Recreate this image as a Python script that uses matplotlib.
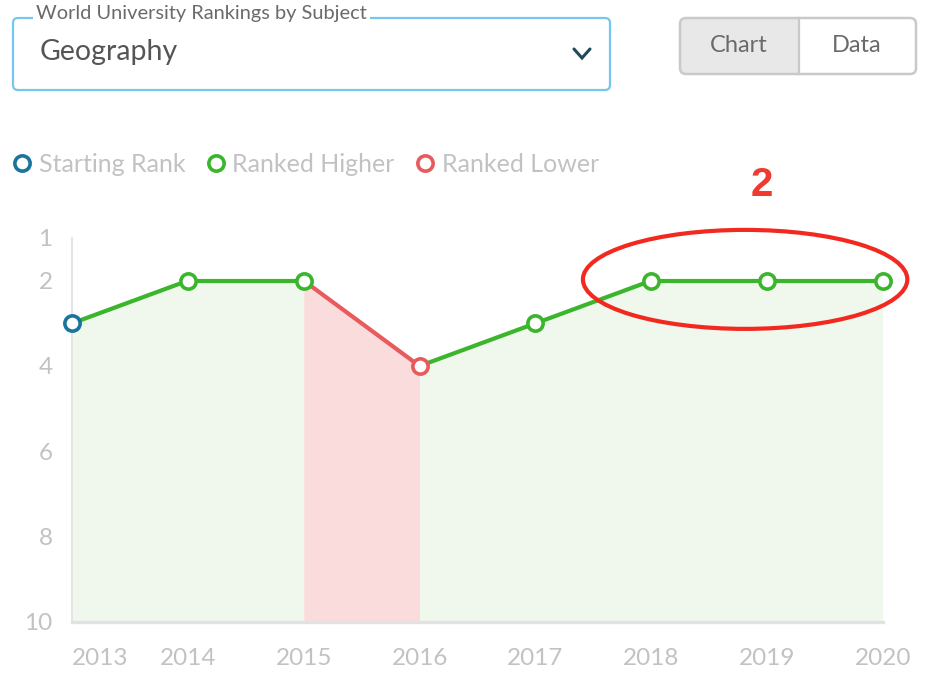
import matplotlib
matplotlib.use("Agg")
import matplotlib.pyplot as plt
from matplotlib.patches import FancyBboxPatch, Ellipse, Rectangle
from matplotlib.lines import Line2D

plt.rcParams["font.family"] = ["Lato", "DejaVu Sans"]

# Ranking history
years = [2013, 2014, 2015, 2016, 2017, 2018, 2019, 2020]
ranks = [3, 2, 2, 4, 3, 2, 2, 2]
y_ticks = [1, 2, 4, 6, 8, 10]
x_labels = [str(y) for y in years]

subject = "Geography"
selector_label = "World University Rankings by Subject"
legend_labels = ["Starting Rank", "Ranked Higher", "Ranked Lower"]
view_options = ["Chart", "Data"]
highlight_rank = 2

# Colours
BLUE = "#1a759c"
GREEN = "#3bb52c"
RED = "#e95a5c"
GREEN_FILL = "#f0f8ed"
RED_FILL = "#fadcdc"
TEXT_GRAY = "#c2c2c2"
CIRCLE_RED = "#f2291f"

W, H = 930, 678
fig = plt.figure(figsize=(W / 100, H / 100), dpi=100)

# Overlay axes in pixel units for the page controls
ui = fig.add_axes([0, 0, 1, 1])
ui.set_xlim(0, W)
ui.set_ylim(H, 0)
ui.axis("off")

# Subject selector
ui.add_patch(FancyBboxPatch((13, 18), 597, 72, boxstyle="round,pad=0,rounding_size=5",
                            fc="white", ec="#74c8ee", lw=1.6))
ui.text(36, 14, selector_label, fontsize=14.4, color="#6a6a6a", va="center", ha="left",
        bbox=dict(fc="white", ec="none", pad=2.5))
ui.text(40, 52, subject, fontsize=20.5, color="#555555", va="center", ha="left")
ui.plot([574, 582, 590], [49, 58, 49], color="#1e4a5a", lw=2.2, solid_capstyle="round",
        solid_joinstyle="miter")

# Chart / Data toggle
toggle = FancyBboxPatch((680, 18), 236, 56, boxstyle="round,pad=0,rounding_size=6",
                        fc="white", ec="none")
ui.add_patch(toggle)
active = Rectangle((680, 18), 119, 56, fc="#e8e8e8", ec="none")
ui.add_patch(active)
active.set_clip_path(toggle)
ui.add_patch(FancyBboxPatch((680, 18), 236, 56, boxstyle="round,pad=0,rounding_size=6",
                            fc="none", ec="#c9c9c9", lw=1.8))
ui.plot([799, 799], [18, 74], color="#c9c9c9", lw=1.6)
ui.text(739, 45, view_options[0], fontsize=17, color="#6a6a6a", ha="center", va="center")
ui.text(857, 45, view_options[1], fontsize=17, color="#6a6a6a", ha="center", va="center")

# Main chart axes
ax = fig.add_axes([72 / W, (H - 622) / H, (883 - 72) / W, (622 - 238) / H])
ax.patch.set_visible(False)
ax.set_xlim(years[0], years[-1])
ax.set_ylim(10, 1)

for i in range(len(years) - 1):
    worse = ranks[i + 1] > ranks[i]
    xs = [years[i], years[i + 1]]
    ys = [ranks[i], ranks[i + 1]]
    ax.fill_between(xs, ys, 10, color=RED_FILL if worse else GREEN_FILL, lw=0, zorder=1)
    ax.plot(xs, ys, color=RED if worse else GREEN, lw=3, solid_capstyle="round", zorder=3)

for i, (x, r) in enumerate(zip(years, ranks)):
    if i == 0:
        c = BLUE
    elif r > ranks[i - 1]:
        c = RED
    else:
        c = GREEN
    ax.plot([x], [r], marker="o", ms=11, mfc="white", mec=c, mew=2.6, zorder=5, clip_on=False)

# Axes styling
for s in ["top", "right"]:
    ax.spines[s].set_visible(False)
ax.spines["left"].set_color("#e2e2e2")
ax.spines["left"].set_linewidth(1.3)
ax.spines["bottom"].set_color("#e2e2e2")
ax.spines["bottom"].set_linewidth(2.4)
ax.spines["left"].set_zorder(2)
ax.spines["bottom"].set_zorder(2)

ax.set_yticks(y_ticks)
ax.set_yticklabels([str(t) for t in y_ticks])
ax.set_xticks(years)
ax.set_xticklabels(x_labels)
ax.tick_params(axis="both", length=0, labelsize=17.5, labelcolor=TEXT_GRAY)
ax.tick_params(axis="y", pad=14)
ax.tick_params(axis="x", pad=19)
ax.get_xticklabels()[0].set_horizontalalignment("left")

# Highlight of the recent rank
ax.add_patch(Ellipse((2018.81, 1.97), 2.8, 2.32, fill=False, ec=CIRCLE_RED, lw=3,
                     zorder=6, clip_on=False))
ui.text(762, 185, str(highlight_rank), fontsize=29, fontweight="bold", color="#f03a30",
        ha="center", va="center", family=["Liberation Sans", "DejaVu Sans"])

# Legend
handles = [Line2D([], [], ls="none", marker="o", ms=11, mfc="white", mec=c, mew=2.6)
           for c in (BLUE, GREEN, RED)]
ax.legend(handles, legend_labels, loc="center left", bbox_to_anchor=(16, 164),
          bbox_transform=ui.transData, ncol=3, frameon=False, fontsize=18,
          labelcolor=TEXT_GRAY, handlelength=0.5, handletextpad=0.42,
          columnspacing=0.95, borderpad=0, borderaxespad=0)

fig.savefig("out.png", dpi=100)
